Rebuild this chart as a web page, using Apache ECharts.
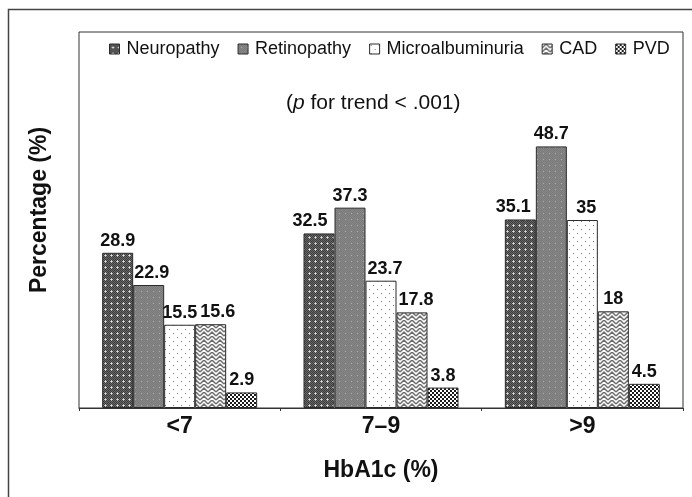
<!DOCTYPE html>
<html>
<head>
<meta charset="utf-8">
<script src="https://cdn.jsdelivr.net/npm/echarts@6/dist/echarts.min.js"></script>
<style>
  html, body { margin: 0; padding: 0; background: #fff; }
  #chart { width: 692px; height: 497px; }
</style>
</head>
<body>
<div id="chart"></div>
<script>
// data
var categories = ['<7', '7–9', '>9'];
var seriesNames = ['Neuropathy', 'Retinopathy', 'Microalbuminuria', 'CAD', 'PVD'];
var neuropathy = [28.9, 32.5, 35.1];
var retinopathy = [22.9, 37.3, 48.7];
var microalbuminuria = [15.5, 23.7, 35];
var cad = [15.6, 17.8, 18];
var pvd = [2.9, 3.8, 4.5];

var FONT = '"Liberation Sans", Arial, Helvetica, sans-serif';

// the original nudges a few crowded labels sideways (px, per series / category)
var labelNudge = {
  Neuropathy: [0, -9, -7],
  Retinopathy: [3, 0, 0],
  Microalbuminuria: [0, 4, 4],
  CAD: [7, 4, 0],
  PVD: [0, 0, 0]
};

// small canvas tiles to mimic the print hatching
function tile(size, draw) {
  var c = document.createElement('canvas');
  c.width = size; c.height = size;
  var ctx = c.getContext('2d');
  draw(ctx, size);
  return { image: c, repeat: 'repeat' };
}
function px(ctx, x, y, col) { ctx.fillStyle = col; ctx.fillRect(x, y, 1, 1); }

var patterns = {
  Neuropathy: tile(6, function (ctx, s) {
    ctx.fillStyle = '#6b6b6b'; ctx.fillRect(0, 0, s, s);
    for (var y = 0; y < s; y++) for (var x = 0; x < s; x++) if ((x + y) % 2 === 0) px(ctx, x, y, '#3a3a3a');
    px(ctx, 3, 3, '#e6e6e6'); px(ctx, 2, 3, '#bbb'); px(ctx, 4, 3, '#bbb'); px(ctx, 3, 2, '#bbb'); px(ctx, 3, 4, '#bbb');
  }),
  Retinopathy: tile(6, function (ctx, s) {
    ctx.fillStyle = '#878787'; ctx.fillRect(0, 0, s, s);
    for (var y = 0; y < s; y++) for (var x = 0; x < s; x++) if ((x + y) % 2 === 0) px(ctx, x, y, '#7a7a7a');
    px(ctx, 3, 3, '#a8a8a8');
  }),
  Microalbuminuria: tile(8, function (ctx, s) {
    ctx.fillStyle = '#ffffff'; ctx.fillRect(0, 0, s, s);
    px(ctx, 1, 1, '#777'); px(ctx, 5, 5, '#777');
  }),
  CAD: tile(8, function (ctx, s) {
    ctx.fillStyle = '#ffffff'; ctx.fillRect(0, 0, s, s);
    ctx.strokeStyle = '#6e6e6e'; ctx.lineWidth = 1.5;
    ctx.beginPath();
    ctx.moveTo(0, 4); ctx.lineTo(4, 0); ctx.lineTo(8, 4);
    ctx.moveTo(0, 8); ctx.lineTo(4, 4); ctx.lineTo(8, 8);
    ctx.moveTo(-4, 4); ctx.lineTo(0, 0);
    ctx.moveTo(8, 0); ctx.lineTo(12, 4);
    ctx.stroke();
  }),
  PVD: tile(4, function (ctx, s) {
    ctx.fillStyle = '#ffffff'; ctx.fillRect(0, 0, s, s);
    ctx.fillStyle = '#1a1a1a'; ctx.fillRect(0, 0, 2, 2); ctx.fillRect(2, 2, 2, 2);
  })
};

var values = [neuropathy, retinopathy, microalbuminuria, cad, pvd];

var chart = echarts.init(document.getElementById('chart'), null, { renderer: 'canvas' });

var series = seriesNames.map(function (name, i) {
  return {
    name: name,
    type: 'bar',
    data: values[i].map(function (v, j) {
      return { value: v, label: { offset: [labelNudge[name][j], 0] } };
    }),
    barWidth: 31,
    barGap: '0%',
    itemStyle: { color: patterns[name], borderColor: '#2b2b2b', borderWidth: 1 },
    label: {
      show: true,
      position: 'top',
      distance: 3,
      color: '#111',
      fontFamily: FONT,
      fontWeight: 'bold',
      fontSize: 18
    }
  };
});

var option = {
  backgroundColor: '#fff',
  animation: false,
  textStyle: { fontFamily: FONT },
  title: {
    text: '({it|p} for trend < .001)',
    left: 281,
    top: 88,
    textStyle: {
      fontFamily: FONT, fontWeight: 'normal', fontSize: 21, color: '#111',
      rich: { it: { fontFamily: FONT, fontStyle: 'italic', fontSize: 21, color: '#111' } }
    }
  },
  legend: {
    data: seriesNames,
    left: 104,
    top: 35,
    itemWidth: 10,
    itemHeight: 10,
    itemGap: 18,
    icon: 'rect',
    textStyle: { fontFamily: FONT, fontSize: 18, color: '#111', padding: [0, 0, 0, 2] },
    itemStyle: { borderColor: '#2b2b2b', borderWidth: 1 }
  },
  graphic: [{
    type: 'polyline',
    shape: { points: [[8.5, 497], [8.5, 9.5], [692, 9.5]] },
    style: { stroke: '#444', lineWidth: 1.5, fill: null },
    silent: true
  }],
  grid: {
    left: 79, right: 9, top: 32, bottom: 89,
    show: true, borderColor: '#333', borderWidth: 1
  },
  xAxis: {
    type: 'category',
    data: categories,
    name: 'HbA1c (%)',
    nameLocation: 'middle',
    nameGap: 51,
    nameTextStyle: { fontFamily: FONT, fontWeight: 'bold', fontSize: 23, color: '#111' },
    axisLine: { lineStyle: { color: '#333', width: 1 } },
    axisTick: { show: true, length: 3, lineStyle: { color: '#333' } },
    axisLabel: { fontFamily: FONT, fontWeight: 'bold', fontSize: 23, color: '#111', margin: 7 }
  },
  yAxis: {
    type: 'value',
    min: 0,
    max: 70,
    interval: 10,
    name: 'Percentage (%)',
    nameLocation: 'middle',
    nameGap: 28,
    nameTextStyle: { fontFamily: FONT, fontWeight: 'bold', fontSize: 23, color: '#111', padding: [0, 0, 0, 20] },
    axisLine: { show: false },
    axisTick: { show: false },
    axisLabel: { show: false },
    splitLine: { show: false }
  },
  series: series
};

chart.setOption(option);
</script>
</body>
</html>
